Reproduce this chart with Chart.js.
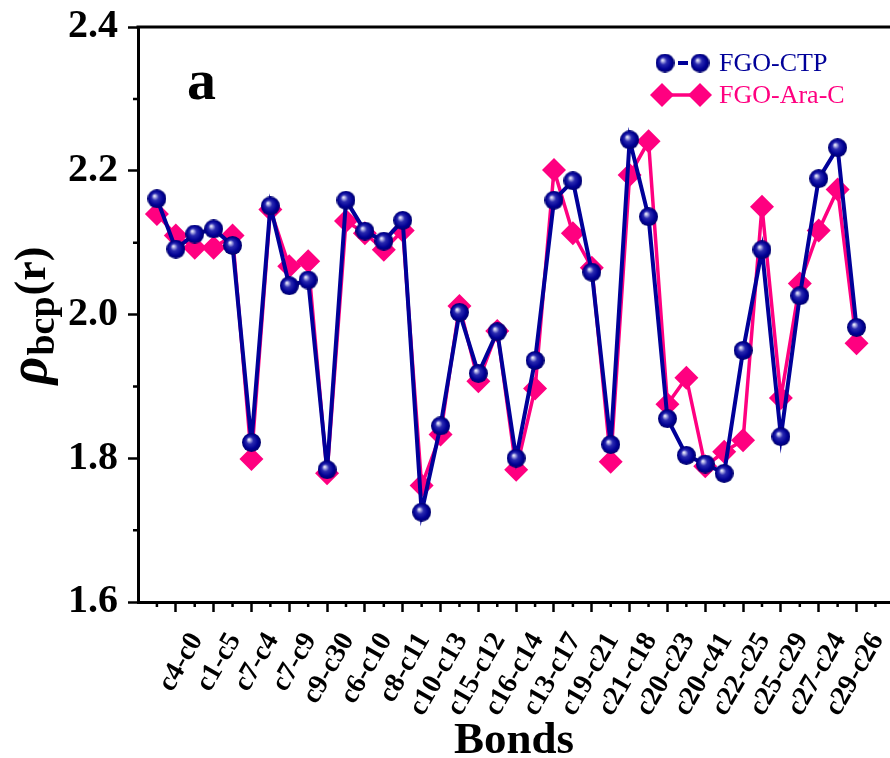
<!DOCTYPE html>
<html>
<head>
<meta charset="utf-8">
<script src="https://cdn.jsdelivr.net/npm/chart.js@4.4.0/dist/chart.umd.min.js"></script>
<style>
  html, body { margin: 0; padding: 0; background: #fff; }
  #wrap { width: 890px; height: 758px; position: relative; }
</style>
</head>
<body>
<div id="wrap"><canvas id="chart"></canvas></div>
<script>
// bond labels sit on every other x position (odd indices)
var bondLabels = ["c4-c0", "c1-c5", "c7-c4", "c7-c9", "c9-c30", "c6-c10", "c8-c11", "c10-c13",
  "c15-c12", "c16-c14", "c13-c17", "c19-c21", "c21-c18", "c20-c23", "c20-c41", "c22-c25",
  "c25-c29", "c27-c24", "c29-c26"];
var labelIndex = [1, 3, 5, 7, 9, 11, 13, 15, 17, 19, 21, 23, 25, 27, 29, 31, 33, 35, 37];
var minorIndex = [0, 2, 4, 6, 8, 10, 12, 14, 16, 18, 20, 22, 24, 26, 28, 30, 32, 34, 36, 38];

var ctpValues = [2.161, 2.091, 2.112, 2.119, 2.096, 1.822, 2.151, 2.040, 2.048, 1.784,
  2.159, 2.116, 2.102, 2.131, 1.725, 1.845, 2.003, 1.918, 1.976, 1.800,
  1.936, 2.159, 2.186, 2.059, 1.819, 2.243, 2.136, 1.855, 1.804, 1.792,
  1.779, 1.950, 2.090, 1.830, 2.026, 2.189, 2.232, 1.982];
var araValues = [2.140, 2.110, 2.093, 2.093, 2.110, 1.799, 2.146, 2.067, 2.074, 1.779,
  2.130, 2.113, 2.090, 2.117, 1.762, 1.833, 2.012, 1.907, 1.977, 1.784,
  1.897, 2.201, 2.113, 2.065, 1.795, 2.194, 2.241, 1.875, 1.912, 1.789,
  1.809, 1.825, 2.150, 1.884, 2.043, 2.117, 2.174, 1.960];

var yTicks = [1.6, 1.8, 2.0, 2.2, 2.4];
var yMinorTicks = [1.7, 1.9, 2.1, 2.3];

var NAVY = "#000099";
var PINK = "#ff0080";
var SERIF = "'Liberation Serif', 'Times New Roman', serif";

// shaded ball used as point marker
function makeSphere(d) {
  var c = document.createElement("canvas");
  c.width = d; c.height = d;
  var g = c.getContext("2d");
  var r = d / 2;
  var grad = g.createRadialGradient(r * 0.72, r * 0.68, 0, r, r, r);
  grad.addColorStop(0, "#ffffff");
  grad.addColorStop(0.12, "#c4c4ee");
  grad.addColorStop(0.38, "#2a2ab0");
  grad.addColorStop(0.75, "#000094");
  grad.addColorStop(1, "#00006a");
  g.fillStyle = grad;
  g.beginPath(); g.arc(r, r, r, 0, Math.PI * 2); g.fill();
  return c;
}
var sphere = makeSphere(19);

function toPoints(arr) {
  return arr.map(function (v, i) { return { x: i, y: v }; });
}

function noPad(s) {
  s.paddingLeft = 0; s.paddingRight = 0; s.paddingTop = 0; s.paddingBottom = 0;
}

var extras = {
  id: "extras",
  afterDraw: function (chart) {
    var ctx = chart.ctx, area = chart.chartArea;
    var xs = chart.scales.x, ys = chart.scales.y;
    ctx.save();
    ctx.strokeStyle = "#000";
    ctx.lineWidth = 2.5;
    // minor ticks
    ctx.beginPath();
    minorIndex.forEach(function (i) {
      var px = xs.getPixelForValue(i);
      ctx.moveTo(px, area.bottom); ctx.lineTo(px, area.bottom + 5);
    });
    yMinorTicks.forEach(function (v) {
      var py = ys.getPixelForValue(v);
      ctx.moveTo(area.left, py); ctx.lineTo(area.left - 5, py);
    });
    ctx.stroke();
    // top frame line
    ctx.lineWidth = 3;
    ctx.beginPath();
    ctx.moveTo(area.left - 1.5, area.top); ctx.lineTo(area.right, area.top);
    ctx.stroke();

    // panel letter
    ctx.fillStyle = "#000";
    ctx.font = "bold 58px " + SERIF;
    ctx.textAlign = "left"; ctx.textBaseline = "alphabetic";
    ctx.fillText("a", 187, 99);

    // legend
    ctx.strokeStyle = NAVY; ctx.lineWidth = 4;
    ctx.beginPath(); ctx.moveTo(678, 63); ctx.lineTo(688, 63); ctx.stroke();
    ctx.drawImage(sphere, 665 - 9.5, 63 - 9.5);
    ctx.drawImage(sphere, 700 - 9.5, 63 - 9.5);
    ctx.strokeStyle = PINK; ctx.lineWidth = 3.5;
    ctx.beginPath(); ctx.moveTo(662, 95); ctx.lineTo(700, 95); ctx.stroke();
    ctx.fillStyle = PINK;
    [662, 700].forEach(function (cx) {
      ctx.beginPath();
      ctx.moveTo(cx, 95 - 12); ctx.lineTo(cx + 12, 95); ctx.lineTo(cx, 95 + 12); ctx.lineTo(cx - 12, 95);
      ctx.closePath(); ctx.fill();
    });
    ctx.font = "26px " + SERIF;
    ctx.textBaseline = "middle";
    ctx.fillStyle = NAVY; ctx.fillText("FGO-CTP", 719, 64);
    ctx.fillStyle = PINK; ctx.fillText("FGO-Ara-C", 719, 96);

    // y axis title: rho_bcp(r), rotated
    ctx.fillStyle = "#000";
    ctx.rotate(-Math.PI / 2);
    ctx.textBaseline = "alphabetic";
    var fRho = "italic bold 54px " + SERIF;
    var fSub = "bold 38px " + SERIF;
    var fMain = "bold 44px " + SERIF;
    ctx.font = fRho; var wRho = ctx.measureText("\u03c1").width;
    ctx.font = fSub; var wSub = ctx.measureText("bcp").width;
    ctx.font = fMain; var wMain = ctx.measureText("(r)").width;
    var total = wRho + wSub + wMain;
    var centre = (area.top + area.bottom) / 2 + 2;
    var start = -(centre + total / 2);
    ctx.font = fRho; ctx.fillText("\u03c1", start, 46);
    ctx.font = fSub; ctx.fillText("bcp", start + wRho + 1, 54);
    ctx.font = fMain; ctx.fillText("(r)", start + wRho + wSub + 2, 45);
    ctx.restore();
  }
};

new Chart(document.getElementById("chart"), {
  type: "line",
  data: {
    datasets: [
      {
        label: "FGO-CTP",
        data: toPoints(ctpValues),
        borderColor: NAVY,
        backgroundColor: NAVY,
        borderWidth: 4,
        pointStyle: sphere,
        pointRadius: 9.5,
        tension: 0
      },
      {
        label: "FGO-Ara-C",
        data: toPoints(araValues),
        borderColor: PINK,
        backgroundColor: PINK,
        borderWidth: 3.5,
        pointStyle: "rectRot",
        pointRadius: 12,
        pointBorderWidth: 0,
        tension: 0
      }
    ]
  },
  options: {
    responsive: true,
    maintainAspectRatio: false,
    animation: false,
    layout: { autoPadding: false, padding: { top: 27, right: 0, left: 0, bottom: 0 } },
    plugins: { legend: { display: false }, tooltip: { enabled: false } },
    scales: {
      x: {
        type: "linear",
        min: -1,
        max: 38.77,
        afterBuildTicks: function (s) { s.ticks = labelIndex.map(function (v) { return { value: v }; }); },
        afterFit: function (s) { s.height = 156; noPad(s); },
        ticks: {
          autoSkip: false,
          minRotation: 60,
          maxRotation: 60,
          labelOffset: 21,
          padding: 15,
          color: "#000",
          font: { family: SERIF, size: 28, weight: "bold" },
          callback: function (v) {
            var k = labelIndex.indexOf(v);
            return k >= 0 ? bondLabels[k] : "";
          }
        },
        grid: { drawOnChartArea: false, drawTicks: true, tickLength: 10, tickWidth: 2.5, tickColor: "#000" },
        border: { display: true, color: "#000", width: 3 },
        title: {
          display: true,
          text: "Bonds",
          color: "#000",
          padding: 0,
          font: { family: SERIF, size: 45, weight: "bold", lineHeight: 0.72 }
        }
      },
      y: {
        min: 1.6,
        max: 2.4,
        afterBuildTicks: function (s) { s.ticks = yTicks.map(function (v) { return { value: v }; }); },
        afterFit: function (s) { s.width = 138; noPad(s); },
        ticks: {
          padding: 10,
          color: "#000",
          font: { family: SERIF, size: 40, weight: "bold" },
          callback: function (v) { return Number(v).toFixed(1); }
        },
        grid: { drawOnChartArea: false, drawTicks: true, tickLength: 10, tickWidth: 2.5, tickColor: "#000" },
        border: { display: true, color: "#000", width: 3 }
      }
    }
  },
  plugins: [extras]
});
</script>
</body>
</html>
